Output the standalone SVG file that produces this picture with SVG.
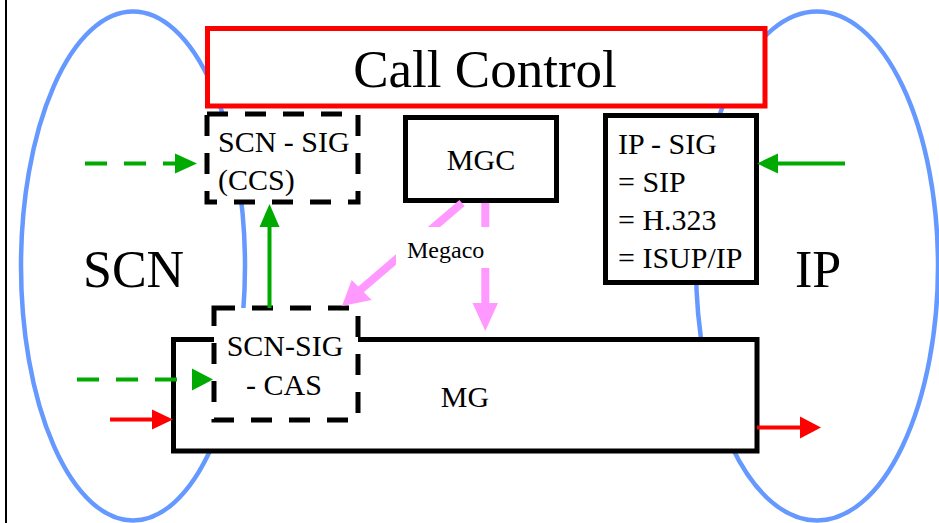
<svg xmlns="http://www.w3.org/2000/svg" width="939" height="523" viewBox="0 0 939 523">
<style>
text{font-family:"Liberation Serif","Times New Roman",serif;fill:#000}
.ell{fill:none;stroke:#6699ff;stroke-width:4.5}
.box{fill:#fff;stroke:#000;stroke-width:5}
.dbox{fill:#fff;stroke:#000;stroke-width:5;stroke-dasharray:21 17}
.cc{fill:#fff;stroke:#ff0000;stroke-width:5}
.t30{font-size:30px}
.big{font-size:52px}
.g{stroke:#00aa00;stroke-width:4;fill:none}
.gd{stroke:#00aa00;stroke-width:4;fill:none;stroke-dasharray:22 17}
.gh{fill:#00aa00}
.r{stroke:#ff0000;stroke-width:4;fill:none}
.rh{fill:#ff0000}
.p{stroke:#ff99ff;stroke-width:8;fill:none}
.ph{fill:#ff99ff}
</style>
<rect width="939" height="523" fill="#fff"/>
<line x1="6" y1="0" x2="6" y2="523" stroke="#000" stroke-width="2"/>
<g id="scn-domain">
<ellipse class="ell" cx="133" cy="266" rx="112" ry="254.5"/>
<text class="big" x="83" y="287">SCN</text>
</g>
<g id="ip-domain">
<ellipse class="ell" cx="817" cy="266" rx="121" ry="254.5"/>
<text class="big" x="795" y="287">IP</text>
</g>
<g id="mg">
<rect class="box" x="173.5" y="339.5" width="583.5" height="111.5"/>
<text class="t30" x="465" y="407" text-anchor="middle">MG</text>
</g>
<g id="scn-sig-cas">
<rect class="dbox" x="214" y="308" width="144" height="112"/>
<text class="t30" x="285" y="356" text-anchor="middle">SCN-SIG</text>
<text class="t30" x="284" y="395" text-anchor="middle">- CAS</text>
</g>
<g id="scn-sig-ccs">
<rect class="dbox" x="207" y="114" width="151" height="88"/>
<text class="t30" x="218" y="152">SCN - SIG</text>
<text class="t30" x="218" y="190">(CCS)</text>
</g>
<g id="mgc">
<rect class="box" x="405.5" y="117.5" width="151" height="83"/>
<text class="t30" x="481" y="170" text-anchor="middle">MGC</text>
</g>
<g id="ip-sig">
<rect class="box" x="605.5" y="115.5" width="151" height="167"/>
<text class="t30" x="618" y="154">IP - SIG</text>
<text class="t30" x="618" y="192">= SIP</text>
<text class="t30" x="618" y="230">= H.323</text>
<text class="t30" x="618" y="268">= ISUP/IP</text>
</g>
<g id="call-control">
<rect class="cc" x="207.5" y="28.5" width="557.5" height="77.5"/>
<text x="485" y="87" font-size="53" text-anchor="middle">Call Control</text>
</g>
<g id="connectors">
<line class="gd" x1="85" y1="163.5" x2="177" y2="163.5"/>
<polygon class="gh" points="197,163.5 175,153.5 175,173.5"/>
<line class="g" x1="845" y1="163.5" x2="776" y2="163.5"/>
<polygon class="gh" points="757,163.5 778,153.5 778,173.5"/>
<line class="g" x1="269.5" y1="308" x2="269.5" y2="224"/>
<polygon class="gh" points="269.5,204 259.5,227 279.5,227"/>
<line class="gd" x1="77" y1="379.5" x2="192" y2="379.5"/>
<polygon class="gh" points="213,379.5 192,368.5 192,390.5"/>
<line class="r" x1="110" y1="419.5" x2="155" y2="419.5"/>
<polygon class="rh" points="173,419.5 152,409.5 152,429.5"/>
<line class="r" x1="757" y1="427.5" x2="802" y2="427.5"/>
<polygon class="rh" points="821,427.5 800,416.5 800,438.5"/>
<line class="p" x1="462" y1="203" x2="358" y2="292"/>
<polygon class="ph" points="342,306 351.7,280 371.7,300"/>
<line class="p" x1="485.3" y1="203" x2="485.3" y2="305"/>
<polygon class="ph" points="485.3,331 472.5,303 498,303"/>
</g>
<g id="megaco-label">
<rect x="396" y="227" width="104" height="41" fill="#fff"/>
<text x="407" y="258" font-size="24">Megaco</text>
</g>
</svg>
